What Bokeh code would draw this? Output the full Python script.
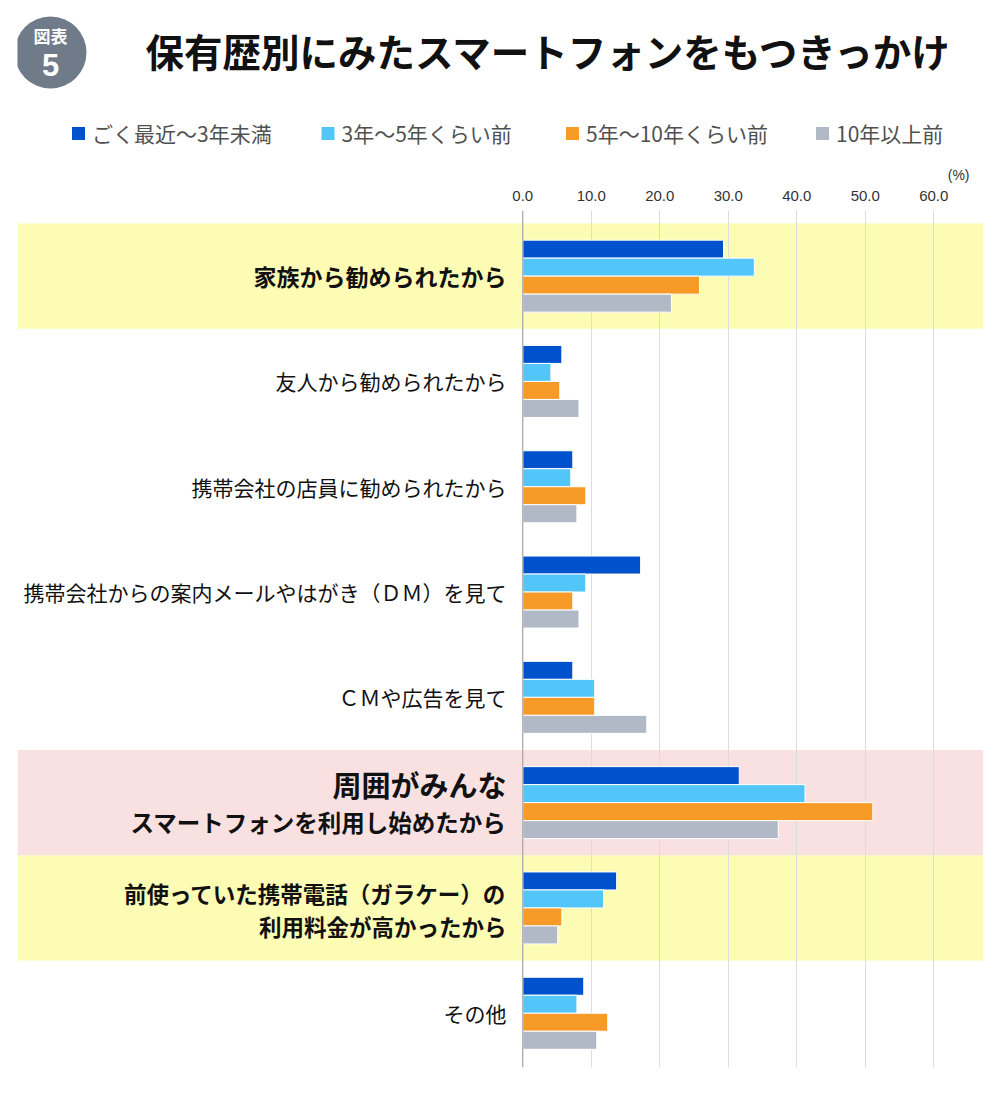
from bokeh.plotting import figure
from bokeh.models import Range1d, FixedTicker, NumeralTickFormatter, Span, ColumnDataSource
from bokeh.layouts import column
from bokeh.transform import dodge
from bokeh.core.properties import value
from bokeh.embed import file_html
from bokeh.resources import INLINE

# ---------------- data ----------------
title = "保有歴別にみたスマートフォンをもつきっかけ"
badge_top = "図表"
badge_num = "5"
categories = [
    "家族から勧められたから",
    "友人から勧められたから",
    "携帯会社の店員に勧められたから",
    "携帯会社からの案内メールやはがき（ＤＭ）を見て",
    "ＣＭや広告を見て",
    "周囲がみんな\nスマートフォンを利用し始めたから",
    "前使っていた携帯電話（ガラケー）の\n利用料金が高かったから",
    "その他",
]
series_names = ["ごく最近〜3年未満", "3年〜5年くらい前", "5年〜10年くらい前", "10年以上前"]
s_recent = [29.3, 5.7, 7.3, 17.2, 7.3, 31.6, 13.7, 8.9]
s_3to5 = [33.8, 4.1, 7.0, 9.2, 10.5, 41.2, 11.8, 7.9]
s_5to10 = [25.8, 5.4, 9.2, 7.3, 10.5, 51.1, 5.7, 12.4]
s_10plus = [21.7, 8.2, 7.9, 8.2, 18.1, 37.3, 5.1, 10.8]
tick_values = [0, 10, 20, 30, 40, 50, 60]
unit_label = "(%)"
highlight_yellow = [0, 6]
highlight_pink = [5]

# ---------------- styles ----------------
colors = ["#0052CC", "#52C6F8", "#F89A27", "#B1B9C6"]
JP = "Noto Sans CJK JP"
NUM = "Liberation Sans Narrow, Liberation Sans, sans-serif"
# per-category label line styles: (size, weight, y_offset px)
label_styles = [
    [("23px", "bold", 0)],
    [("21px", "normal", 0)],
    [("21px", "normal", 0)],
    [("21px", "normal", 0)],
    [("21px", "normal", 0)],
    [("29px", "bold", -19), ("23.5px", "bold", 19)],
    [("22.5px", "bold", -15), ("22.5px", "bold", 18)],
    [("21px", "normal", 0)],
]

W = 1000
HDR_H = 184
MAIN_H = 911
FL, FR = 17, 983   # frame left / right (page px)

# ---------------- header ----------------
hdr = figure(width=W, height=HDR_H, x_range=Range1d(FL, FR), y_range=Range1d(HDR_H, 0),
             x_axis_location=None, y_axis_location=None, output_backend="svg",
             toolbar_location=None, min_border_left=FL, min_border_right=W - FR,
             min_border_top=0, min_border_bottom=0, outline_line_color=None)
hdr.grid.visible = False
hdr.circle(x=50, y=52, radius=36, fill_color="#6F7B89", line_color=None)
hdr.text(x=[50], y=[35], text=[badge_top], text_color="white", text_font=value(JP),
         text_font_size="17px", text_font_style="bold", text_align="center", text_baseline="middle")
hdr.text(x=[50], y=[64], text=[badge_num], text_color="white", text_font=value("Liberation Sans"),
         text_font_size="31px", text_font_style="bold", text_align="center", text_baseline="middle")
hdr.text(x=[145], y=[49], text=[title], text_color="#111111", text_font=value(JP),
         text_font_size="38.5px", text_font_style="bold", text_align="left", text_baseline="middle")

leg_x = [78, 327.5, 572, 822]
hdr.scatter(x=leg_x, y=[133] * 4, marker="square", size=13, fill_color=colors, line_color=None)
hdr.text(x=[x + 13.5 for x in leg_x], y=[132] * 4, text=series_names, text_color="#505050",
         text_font=value(JP), text_font_size="21px", text_align="left", text_baseline="middle")
hdr.text(x=[969], y=[174], text=[unit_label], text_color="#333333", text_font=value(NUM),
         text_font_size="14px", text_align="right", text_baseline="middle")

# ---------------- main chart ----------------
PX_PER_UNIT = 6.85
X0_PAGE = 522.3
x_start = (FL - X0_PAGE) / PX_PER_UNIT
x_end = (FR - X0_PAGE) / PX_PER_UNIT
CAT_PX = 105.3
y_top = -0.5 - 13 / CAT_PX
y_bottom = y_top + 857 / CAT_PX

p = figure(width=W, height=MAIN_H, x_range=Range1d(x_start, x_end), y_range=Range1d(y_bottom, y_top),
           x_axis_location="above", y_axis_location=None, output_backend="svg", toolbar_location=None,
           min_border_left=FL, min_border_right=W - FR, min_border_top=26, min_border_bottom=28,
           outline_line_color=None)

ticker = FixedTicker(ticks=tick_values)
ax = p.xaxis[0]
ax.ticker = ticker
ax.formatter = NumeralTickFormatter(format="0.0")
ax.axis_line_color = None
ax.major_tick_line_color = None
ax.minor_tick_line_color = None
ax.major_label_text_font_size = "15px"
ax.major_label_text_color = "#333333"
ax.major_label_text_font = NUM
ax.major_label_standoff = 4
p.xgrid.ticker = ticker
p.xgrid.grid_line_color = "#DCDCDC"
p.ygrid.visible = False

# highlight bands
band_idx = highlight_yellow + highlight_pink
band_col = ["#FDFCB5"] * len(highlight_yellow) + ["#FAE1E1"] * len(highlight_pink)
p.quad(left=[x_start] * len(band_idx), right=[x_end] * len(band_idx),
       top=[i - 0.5 for i in band_idx], bottom=[i + 0.5 for i in band_idx],
       fill_color=band_col, line_color=None, level="image")

# bars
idx = list(range(len(categories)))
src = ColumnDataSource(dict(y=idx, a=s_recent, b=s_3to5, c=s_5to10, d=s_10plus))
bar_h = 18 / CAT_PX
offsets = [-1.5 * bar_h, -0.5 * bar_h, 0.5 * bar_h, 1.5 * bar_h]
for col, off, colr in zip(["a", "b", "c", "d"], offsets, colors):
    p.hbar(y=dodge("y", off), left=0, right=col, height=bar_h, source=src,
           fill_color=colr, line_color="white", line_width=1)

p.add_layout(Span(location=0, dimension="height", line_color="#9A9A9A", line_width=1))

# category labels
lx, ly, lt, ls, lw, lo = [], [], [], [], [], []
for i, cat in enumerate(categories):
    for line, (sz, wt, off) in zip(cat.split("\n"), label_styles[i]):
        lx.append(-2.38)
        ly.append(i)
        lt.append(line)
        ls.append(sz)
        lw.append(wt)
        lo.append(off)
lsrc = ColumnDataSource(dict(x=lx, y=ly, t=lt, s=ls, w=lw, o=lo))
p.text(x="x", y="y", text="t", y_offset="o", text_font_size="s", text_font_style="w",
       text_font=value(JP), text_color="#111111", text_align="right", text_baseline="middle", source=lsrc)

layout = column(hdr, p, spacing=0)
open("out.html", "w").write(file_html(layout, INLINE))
